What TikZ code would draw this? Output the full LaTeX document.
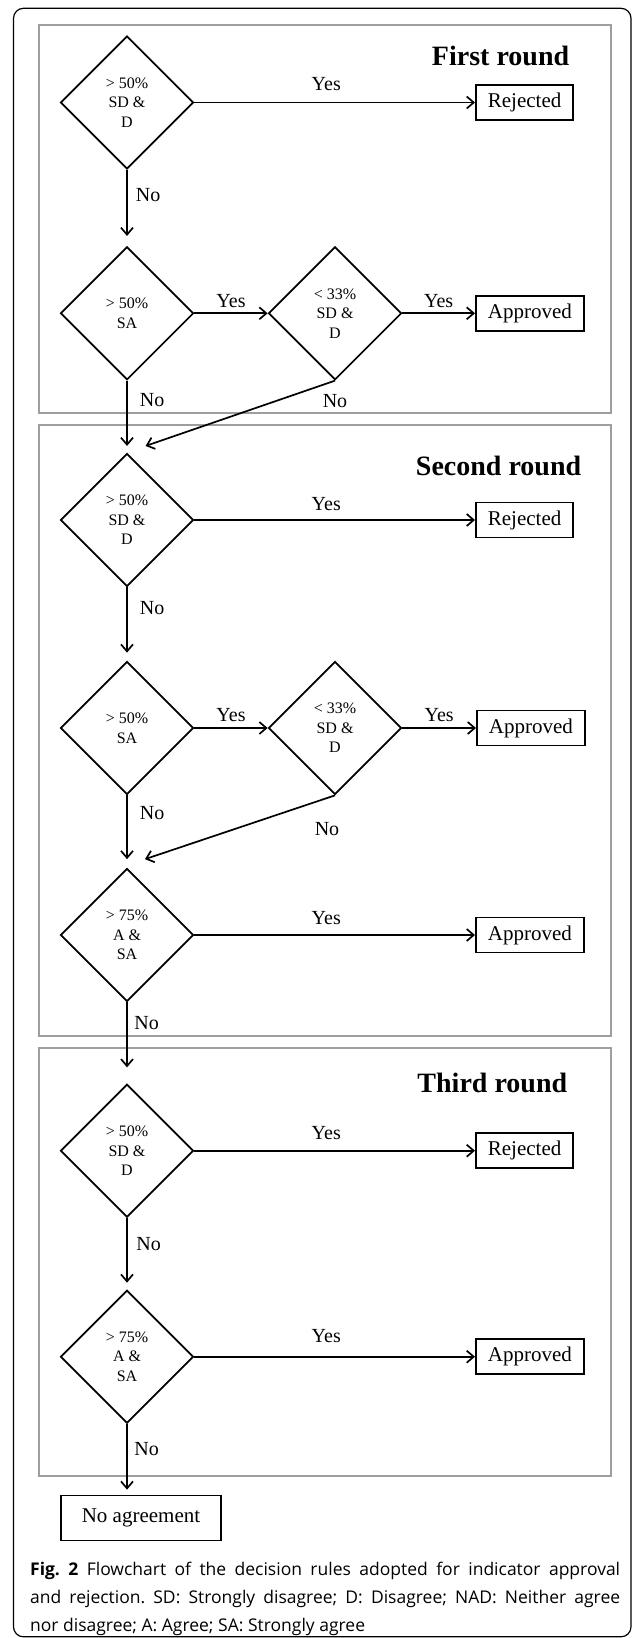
\documentclass[tikz,border=0pt]{standalone}
\usepackage{fontspec}
\setmainfont{Liberation Serif}
\newfontfamily\captionfont{Open Sans}
\usetikzlibrary{arrows.meta, shapes.geometric}

\begin{document}
\frenchspacing
\begin{tikzpicture}[x=1pt, y=-1pt,
  >={Straight Barb[length=7pt, width=12pt]},
  decision/.style={diamond, draw=black, aspect=1, minimum width=133pt,
    minimum height=133pt, inner sep=0pt, align=center,
    font=\fontsize{16}{19.5}\selectfont},
  %
  outcome/.style={rectangle, draw=black, anchor=west, minimum height=35pt,
    inner xsep=12pt, font=\fontsize{21}{25}\selectfont},
  %
  answer/.style={inner sep=2pt, font=\fontsize{20}{24}\selectfont},
  %
  roundtitle/.style={anchor=base east, inner sep=0pt,
    font=\fontsize{28}{32}\selectfont\bfseries},
  %
  roundbox/.style={draw=black!38, line width=2pt}
  ]

  \tikzset{every path/.style={line width=1.7pt}}

  \useasboundingbox (0,0) rectangle (634,1638);
  \draw[line width=1.2pt, rounded corners=10pt] (13.5,8.3) rectangle (631,1636.8);

  \begin{scope}
    \draw[roundbox] (39,25) rectangle (611,413);
    \draw[roundbox] (39,425) rectangle (611,1036);
    \draw[roundbox] (39,1048) rectangle (611,1476);
    %
    \node[roundtitle] (t1) at (570,65) {First round};
    \node[roundtitle] (t2) at (582,475) {Second round};
    \node[roundtitle] (t3) at (568,1092) {Third round};
  \end{scope}

  \begin{scope}
    %%%%%%%%%%%%%%%%%%%%%%%%%%%%%%% first round
    \node[decision] (r1sdd) at (127,102.5) {> 50\%\\SD \&\\D};
    \node[outcome] (r1rej) at (475,102.5) {Rejected};
    \node[decision] (r1sa) at (127,313.3) {> 50\%\\SA};
    \node[decision] (r1low) at (335,313.3) {< 33\%\\SD \&\\D};
    \node[outcome] (r1app) at (475,313.3) {Approved};
    %%%%%%%%%%%%%%%%%%%%%%%%%%%%%%% second round
    \node[decision] (r2sdd) at (127,520) {> 50\%\\SD \&\\D};
    \node[outcome] (r2rej) at (475,520) {Rejected};
    \node[decision] (r2sa) at (127,728) {> 50\%\\SA};
    \node[decision] (r2low) at (335,728) {< 33\%\\SD \&\\D};
    \node[outcome] (r2app) at (476,728) {Approved};
    \node[decision] (r2asa) at (127,935) {> 75\%\\A \&\\SA};
    \node[outcome] (r2appb) at (475,935) {Approved};
    %%%%%%%%%%%%%%%%%%%%%%%%%%%%%%% third round
    \node[decision] (r3sdd) at (127,1150.7) {> 50\%\\SD \&\\D};
    \node[outcome] (r3rej) at (475,1150.7) {Rejected};
    \node[decision] (r3asa) at (127,1356.7) {> 75\%\\A \&\\SA};
    \node[outcome] (r3app) at (475,1356.7) {Approved};
    %
    \node[outcome, anchor=center, minimum height=45pt, inner xsep=21pt]
      (noagree) at (141,1518) {No agreement};
    \coordinate (naend) at (r3asa.south |- noagree.north);
  \end{scope}

  \begin{scope}[->]
    % first round
    \draw (r1sdd) -- (r1rej)
      node[answer, above=9pt, pos=.47] (r1yes1) {Yes};
    \draw (r1sdd) -- ([yshift=10pt]r1sa.north)
      node[answer, right=6pt, pos=.38] (r1no1) {No};
    \draw (r1sa) -- (r1low)
      node[answer, above=3pt, midway] (r1yes2) {Yes};
    \draw (r1low) -- (r1app)
      node[answer, above=3pt, midway] (r1yes3) {Yes};
    \draw (r1sa) -- ([yshift=6.7pt]r2sdd.north)
      node[answer, right=10pt, pos=.3] (r1no2) {No};
    \draw (r1low.south) -- ([xshift=18.6pt, yshift=6.7pt]r2sdd.north)
      node[answer, below=11pt, at start] (r1no3) {No};
    % second round
    \draw (r2sdd) -- (r2rej)
      node[answer, above=6pt, pos=.47] (r2yes1) {Yes};
    \draw (r2sdd) -- ([yshift=8pt]r2sa.north)
      node[answer, right=10pt, pos=.31] (r2no1) {No};
    \draw (r2sa) -- (r2low)
      node[answer, above=3pt, midway] (r2yes2) {Yes};
    \draw (r2low) -- (r2app)
      node[answer, above=3pt, midway] (r2yes3) {Yes};
    \draw (r2sa) -- ([yshift=8.5pt]r2asa.north)
      node[answer, right=10pt, pos=.28] (r2no2) {No};
    \draw (r2low.south) -- ([xshift=18pt, yshift=8.5pt]r2asa.north)
      node[answer, below=24pt, xshift=-8pt, at start] (r2no3) {No};
    \draw (r2asa) -- (r2appb)
      node[answer, above=7.5pt, pos=.47] (r2yes4) {Yes};
    \draw (r2asa) -- ([yshift=16pt]r3sdd.north)
      node[answer, right=4.5pt, pos=.32] (r2no4) {No};
    % third round
    \draw (r3sdd) -- (r3rej)
      node[answer, above=8pt, pos=.47] (r3yes1) {Yes};
    \draw (r3sdd) -- ([yshift=6.7pt]r3asa.north)
      node[answer, right=6.5pt, pos=.4] (r3no1) {No};
    \draw (r3asa) -- (r3app)
      node[answer, above=11pt, pos=.47] (r3yes2) {Yes};
    \draw (r3asa) -- ([yshift=5pt]naend)
      node[answer, right=4.5pt, pos=.38] (r3no2) {No};
  \end{scope}

  \node[anchor=north west, inner sep=0pt, text width=590pt, align=justify,
    font=\captionfont\fontsize{17.5}{28}\selectfont] (caption) at (29.3,1561)
    {\textbf{Fig. 2} Flowchart of the decision rules adopted for indicator approval\linebreak
     and rejection. SD: Strongly disagree; D: Disagree; NAD: Neither agree\linebreak
     nor disagree; A: Agree; SA: Strongly agree};

\end{tikzpicture}
\end{document}
